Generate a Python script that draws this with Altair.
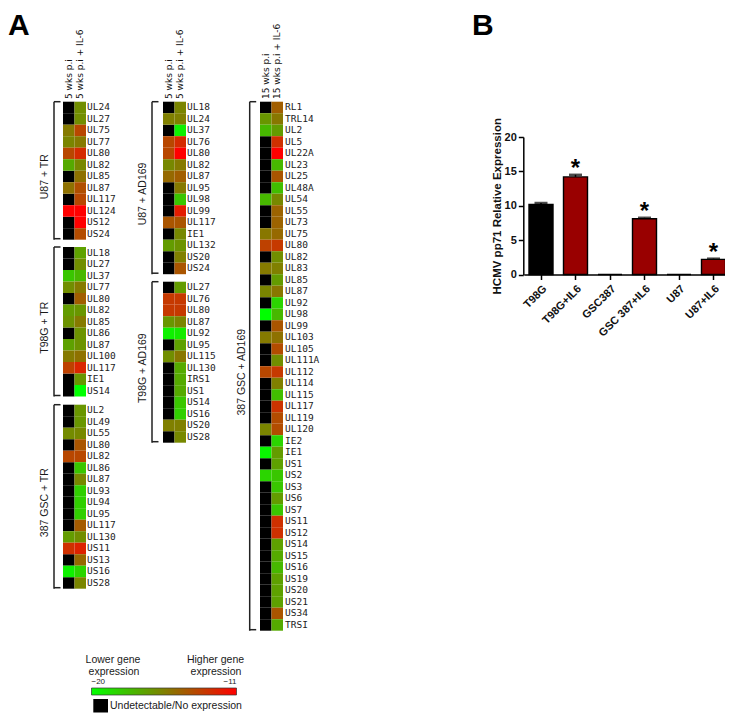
import altair as alt
import pandas as pd

W, H = 717, 705
N = None
COLS_5 = ["5 wks p.i", "5 wks p.i + IL-6"]
COLS_15 = ["15 wks p.i", "15 wks p.i + IL-6"]

u87_tr_genes = ["UL24","UL27","UL75","UL77","UL80","UL82","UL85","UL87","UL117","UL124","US12","US24"]
u87_tr_a = [N,N,-15.3,-15.7,-13.5,-17,N,-15,N,-11,N,N]
u87_tr_b = [-16,-16,-13.5,-15.3,-12.5,-15.8,-15,-13.8,-13.5,-11,-11,-13.7]

t98_tr_genes = ["UL18","UL27","UL37","UL77","UL80","UL82","UL85","UL86","UL87","UL100","UL117","IE1","US14"]
t98_tr_a = [N,N,-18,-16,N,-16.5,-16.2,N,-16.7,-15.3,-13.3,N,N]
t98_tr_b = [-16.7,-16,-17.5,-15.3,-14.3,-16.3,-15.3,-16.2,-16.2,-15,-12.3,-16.3,-20]

gsc_tr_genes = ["UL2","UL49","UL55","UL80","UL82","UL86","UL87","UL93","UL94","UL95","UL117","UL130","US11","US13","US16","US28"]
gsc_tr_a = [N,N,-15.9,N,-13.5,N,N,N,N,N,N,-16.5,-12.7,N,-19.5,N]
gsc_tr_b = [-16.3,-16.3,-15.8,-14,-13.5,-18,-15.8,-18.3,-18.3,-18.3,-14.2,-16,-12.2,-14.7,-18.5,-15.7]

u87_ad_genes = ["UL18","UL24","UL37","UL76","UL80","UL82","UL87","UL95","UL98","UL99","UL117","IE1","UL132","US20","US24"]
u87_ad_a = [N,-15.5,N,-13.5,-13.5,-15.8,-14.7,N,N,N,-14,N,-16.5,N,N]
u87_ad_b = [-15.7,-15.5,-19.5,-12.5,-11,-15.3,-14.3,-15.3,-18,-12,-14,-15.8,-16.2,-15.5,-14]

t98_ad_genes = ["UL27","UL76","UL80","UL87","UL92","UL95","UL115","UL130","IRS1","US1","US14","US16","US20","US28"]
t98_ad_a = [N,-13,-13,-16.3,-19.5,N,-16,N,N,N,N,N,-15.5,N]
t98_ad_b = [-16.5,-13,-13,-15.7,-19.3,-16.7,-15.2,-17,-17,-17,-18,-18.3,-15.5,-15.8]

gsc_ad_genes = ["RL1","TRL14","UL2","UL5","UL22A","UL23","UL25","UL48A","UL54","UL55","UL73","UL75","UL80","UL82","UL83","UL85","UL87","UL92","UL98","UL99","UL103","UL105","UL111A","UL112","UL114","UL115","UL117","UL119","UL120","IE2","IE1","US1","US2","US3","US6","US7","US11","US12","US14","US15","US16","US19","US20","US21","US34","TRSI"]
gsc_ad_a = [N,-16.3,-17.5,N,N,N,N,N,-17.5,N,N,-15.2,-13.3,N,-15.3,N,-15.7,N,-20,N,-15.3,N,N,-13.5,N,N,N,N,-15.7,N,-19.7,N,-18.5,N,N,N,N,N,N,N,N,N,N,N,N,N]
gsc_ad_b = [-14.3,-15.2,-16.5,-12.7,-11,-17.5,-14,-17.7,-15.8,-14.5,-14.5,-14.7,-13,-16,-15.5,-16.5,-15.2,-18.5,-17.5,-14,-15,-13.7,-16,-13,-15.5,-17.7,-12.8,-13.7,-13.7,-18.5,-16.5,-16.7,-18,-18,-16.5,-18,-12.7,-12.7,-16.7,-17,-17.5,-16.7,-16.7,-16.7,-14,-17]

bar_cats = ["T98G","T98G+IL6","GSC387","GSC 387+IL6","U87","U87+IL6"]
bar_vals = [10.2,14.2,0,8.1,0,2.2]
bar_errs = [0.2,0.3,0,0.15,0,0.1]
bar_fill = ["black","#990000","#990000","#990000","#990000","#990000"]
star_cats = ["T98G+IL6","GSC 387+IL6","U87+IL6"]

LEFT = 8
TOP = 8
ROW = 11.5

def T(text, x, y, size=10, font="Liberation Sans", weight="normal", align="center",
      baseline="middle", angle=0, color="#1a1a1a"):
    return alt.Chart(pd.DataFrame({"t":[text]})).mark_text(
        font=font, fontSize=size, fontWeight=weight, align=align, baseline=baseline,
        angle=angle, color=color
    ).encode(text="t:N", x=alt.value(x-LEFT), y=alt.value(y-TOP))

def R(x, y, x2=None, y2=None, w=1.5):
    enc = dict(x=alt.value(x-LEFT), y=alt.value(y-TOP))
    if x2 is not None: enc["x2"] = alt.value(x2-LEFT)
    if y2 is not None: enc["y2"] = alt.value(y2-TOP)
    return alt.Chart(pd.DataFrame({"a":[0]})).mark_rule(color="#222222", strokeWidth=w).encode(**enc)

color_enc = alt.Color("v:Q", scale=alt.Scale(domain=[-20,-11], range=["#00ff00","#ff0000"], interpolate="rgb"),
    legend=alt.Legend(orient="none", legendX=91.5-LEFT, legendY=688-TOP, direction="horizontal",
                      gradientLength=145, gradientThickness=7, title=None, values=[-20,-11],
                      labelFont="Liberation Sans", labelFontSize=8, labelColor="#1a1a1a",
                      labelOffset={"expr": "-17"},
                      gradientStrokeColor="#333333", gradientStrokeWidth=0.7))

def heat(name, genes, a, b, cols, x0, y0, brx, lx, gx, with_header):
    x1 = x0 + 23
    y1 = y0 + ROW*len(genes)
    xs = alt.Scale(domain=cols, range=[x0-LEFT, x1-LEFT], paddingInner=0, paddingOuter=0)
    ys = alt.Scale(domain=genes, range=[y0-TOP, y1-TOP], paddingInner=0, paddingOuter=0)
    g2 = genes*2
    c2 = [cols[0]]*len(genes)+[cols[1]]*len(genes)
    v2 = list(a)+list(b)
    df_on = pd.DataFrame([{"g":g,"c":c,"v":v} for g,c,v in zip(g2,c2,v2) if v is not None])
    df_off = pd.DataFrame([{"g":g,"c":c} for g,c,v in zip(g2,c2,v2) if v is None])
    xe = alt.X("c:N", scale=xs, axis=None, sort=None)
    ye = alt.Y("g:N", scale=ys, axis=None, sort=None)
    undetectable = alt.Chart(df_off).mark_rect(strokeWidth=0, color="black").encode(x=xe, y=ye)
    rect = alt.Chart(df_on).mark_rect(strokeWidth=0).encode(x=xe, y=ye, color=color_enc)
    lab = alt.Chart(pd.DataFrame({"g":genes})).mark_text(
        font="DejaVu Sans Mono", fontSize=9.5, align="left", baseline="middle", color="#222222"
    ).encode(y=ye, x=alt.value(lx-LEFT), text="g:N")
    out = [undetectable, rect, lab]
    if with_header:
        out.append(alt.Chart(pd.DataFrame({"c":cols})).mark_text(
            font="DejaVu Sans", fontSize=9, angle=270, align="left", baseline="middle", color="#111111"
        ).encode(x=xe, y=alt.value(99-TOP), text="c:N"))
    out += [R(brx, y0, y2=y1), R(brx, y0, x2=brx+6.5), R(brx, y1-1, x2=brx+6.5)]
    out.append(T(name, gx, (y0+y1)/2+6, size=10.5, angle=270, font="Liberation Sans"))
    return out

layers = []
layers += heat("U87 + TR", u87_tr_genes, u87_tr_a, u87_tr_b, COLS_5, 63, 101.7, 54, 87, 45, True)
layers += heat("T98G + TR", t98_tr_genes, t98_tr_a, t98_tr_b, COLS_5, 63, 247, 54, 87, 45, False)
layers += heat("387 GSC + TR", gsc_tr_genes, gsc_tr_a, gsc_tr_b, COLS_5, 63, 404.7, 54, 87, 45, False)
layers += heat("U87 + AD169", u87_ad_genes, u87_ad_a, u87_ad_b, COLS_5, 163, 101.7, 152, 187, 143, True)
layers += heat("T98G + AD169", t98_ad_genes, t98_ad_a, t98_ad_b, COLS_5, 163, 281.7, 152, 187, 143, False)
layers += heat("387 GSC + AD169", gsc_ad_genes, gsc_ad_a, gsc_ad_b, COLS_15, 260, 101.7, 249.7, 285, 242, True)

# bar chart
bx = alt.Scale(domain=bar_cats, range=[523.75-LEFT, 730.75-LEFT], paddingInner=0, paddingOuter=0)
by = alt.Scale(domain=[0,20], range=[274.5-TOP, 137-TOP])
bdf = pd.DataFrame({"c":bar_cats, "v":bar_vals, "e":bar_errs, "f":bar_fill})
bdf["top"] = bdf.v + bdf.e
X_ax = alt.Axis(orient="bottom", offset=274.5-TOP-H, title=None, labelAngle=-45, labelFont="Liberation Sans",
                labelFontSize=11, labelFontWeight="bold", labelColor="#111111", labelPadding=3,
                domainColor="black", domainWidth=1.5, tickColor="black", tickWidth=1.5, tickSize=5, grid=False)
Y_ax = alt.Axis(orient="left", offset=-(523.3-LEFT), title="HCMV pp71 Relative Expression", values=[0,5,10,15,20],
                labelFont="Liberation Sans", labelFontSize=11, labelFontWeight="bold", labelColor="#111111",
                titleFont="Liberation Sans", titleFontSize=11.5, titleFontWeight="bold", titleColor="#111111",
                titlePadding=2, domainColor="black", domainWidth=1.5, tickColor="black", tickWidth=1.5, tickSize=5, grid=False)
bars = alt.Chart(bdf).mark_bar(size=24, stroke="black", strokeWidth=1.4).encode(
    x=alt.X("c:N", scale=bx, axis=X_ax, sort=None),
    y=alt.Y("v:Q", scale=by, axis=Y_ax),
    fill=alt.Fill("f:N", scale=None))
xn = alt.X("c:N", scale=bx, axis=None, sort=None)
err = alt.Chart(bdf).transform_filter("datum.e > 0").mark_rule(color="black", strokeWidth=1.5).encode(
    x=xn, y=alt.Y("v:Q", scale=by, axis=None), y2="top:Q")
cap = alt.Chart(bdf).transform_filter("datum.e > 0").mark_tick(color="black", thickness=2.5, size=13, orient="horizontal").encode(
    x=xn, y=alt.Y("top:Q", scale=by, axis=None))
star = alt.Chart(bdf[bdf.c.isin(star_cats)]).transform_calculate(s="'*'").mark_text(
    font="Liberation Sans", fontSize=24, fontWeight="bold", baseline="middle", dy=-6, color="black").encode(
    x=xn, y=alt.Y("top:Q", scale=by, axis=None), text="s:N")
layers += [bars, err, cap, star]

# annotations
layers += [
    T("A", 8, 35, size=30, weight="bold", align="left", baseline="alphabetic", color="black"),
    T("B", 472, 35, size=30, weight="bold", align="left", baseline="alphabetic", color="black"),
    T("Lower gene", 113, 660, size=10.5),
    T("expression", 114, 672, size=10.5),
    T("Higher gene", 215.5, 660, size=10.5),
    T("expression", 216, 672, size=10.5),
    T("Undetectable/No expression", 110, 706, size=10.5, align="left"),
    alt.Chart(pd.DataFrame({"a":[0]})).mark_rect(color="black").encode(
        x=alt.value(93.3-LEFT), x2=alt.value(108-LEFT), y=alt.value(699-TOP), y2=alt.value(712.5-TOP)),
]

chart = alt.layer(*layers).resolve_scale(x="independent", y="independent", color="shared", fill="independent").properties(
    width=W, height=H, padding=0, autosize=alt.AutoSizeParams(type="none", contains="content")
).configure_view(stroke=None)

chart.save("out.html", embed_options={"renderer": "svg", "actions": False})
